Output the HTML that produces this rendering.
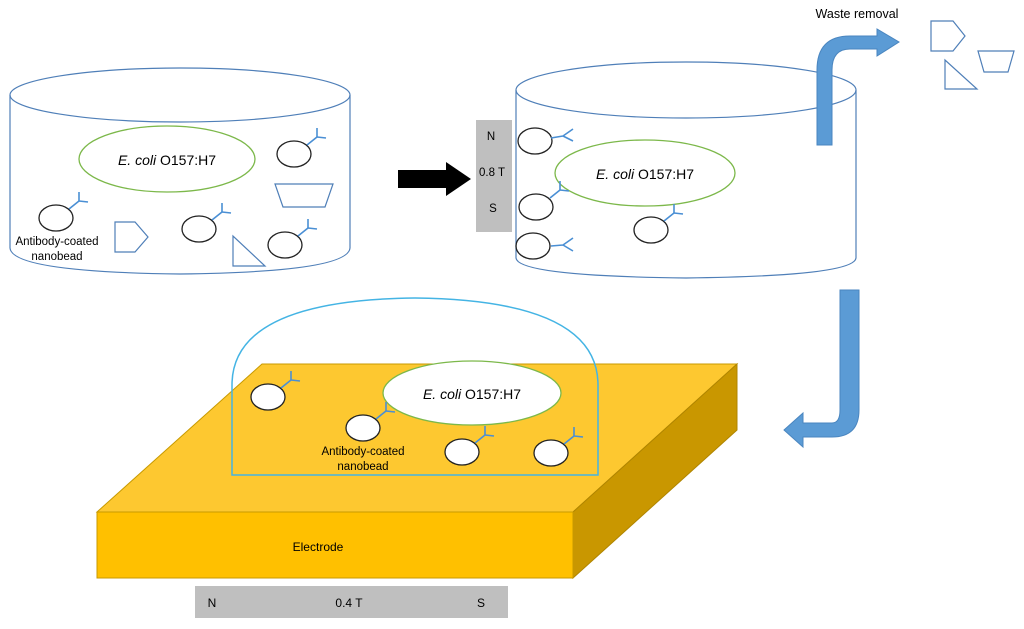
<!DOCTYPE html>
<html><head><meta charset="utf-8"><style>
html,body{margin:0;padding:0;background:#fff;}
svg{display:block;font-family:"Liberation Sans",sans-serif;}
</style></head><body>
<svg width="1024" height="629" viewBox="0 0 1024 629" xmlns="http://www.w3.org/2000/svg">
<defs>
<g id="ab" stroke="#4a8fd4" stroke-width="1.6" fill="none"><line x1="0" y1="0" x2="10" y2="-8"/><line x1="10" y1="-8" x2="10" y2="-17"/><line x1="10" y1="-8" x2="19" y2="-7"/></g>
</defs>
<g fill="none" stroke="#4f7fb8" stroke-width="1.2">
<ellipse cx="180" cy="95" rx="170" ry="27"/>
<path d="M10,95 L10,248 Q12,272 180,274 Q348,272 350,248 L350,95"/>
</g>
<ellipse cx="167" cy="159" rx="88" ry="33" fill="none" stroke="#7cb84a" stroke-width="1.3"/>
<text x="167" y="165" font-size="14" text-anchor="middle"><tspan font-style="italic">E. coli</tspan> O157:H7</text>
<g fill="none" stroke="#222" stroke-width="1.3">
<ellipse cx="56" cy="218" rx="17" ry="13"/><ellipse cx="294" cy="154" rx="17" ry="13"/>
<ellipse cx="199" cy="229" rx="17" ry="13"/><ellipse cx="285" cy="245" rx="17" ry="13"/>
</g>
<use href="#ab" x="69" y="209"/><use href="#ab" x="307" y="145"/><use href="#ab" x="212" y="220"/><use href="#ab" x="298" y="236"/>
<g fill="none" stroke="#4f7fb8" stroke-width="1.2">
<polygon points="115,222 135,222 148,237 135,252 115,252"/>
<polygon points="275,184 333,184 325,207 283,207"/>
<polygon points="233,236 233,266 265,266"/>
</g>
<text x="57" y="245" font-size="11.5" text-anchor="middle">Antibody-coated</text>
<text x="57" y="260" font-size="11.5" text-anchor="middle">nanobead</text>
<polygon points="398,170 446,170 446,162 471,179 446,196 446,188 398,188" fill="#000"/>
<rect x="476" y="120" width="36" height="112" fill="#bfbfbf"/>
<text x="491" y="140" font-size="11.5" text-anchor="middle">N</text>
<text x="492" y="176" font-size="11.5" text-anchor="middle">0.8 T</text>
<text x="493" y="212" font-size="11.5" text-anchor="middle">S</text>
<g fill="none" stroke="#4f7fb8" stroke-width="1.2">
<ellipse cx="686" cy="90" rx="170" ry="28"/>
<path d="M516,90 L516,258 Q518,276 686,278 Q854,276 856,258 L856,90"/>
</g>
<ellipse cx="645" cy="173" rx="90" ry="33" fill="none" stroke="#7cb84a" stroke-width="1.3"/>
<text x="645" y="179" font-size="14" text-anchor="middle"><tspan font-style="italic">E. coli</tspan> O157:H7</text>
<g fill="none" stroke="#222" stroke-width="1.3">
<ellipse cx="535" cy="141" rx="17" ry="13"/><ellipse cx="536" cy="207" rx="17" ry="13"/>
<ellipse cx="533" cy="246" rx="17" ry="13"/><ellipse cx="651" cy="230" rx="17" ry="13"/>
</g>
<g stroke="#4a8fd4" stroke-width="1.6" fill="none">
<path d="M551,138 L563,136 M563,136 L573,129 M563,136 L573,141"/>
<path d="M551,246 L563,245 M563,245 L573,238 M563,245 L573,251"/>
</g>
<use href="#ab" x="550" y="198"/><use href="#ab" x="664" y="221"/>
<path d="M817,145 L817,70 Q817,36 850,36 L877,36 L877,29 L899,42 L877,56 L877,49 L850,49 Q832,49 832,70 L832,145 Z" fill="#5b9bd5" stroke="#4a86c0"/>
<text x="857" y="18" font-size="12.5" text-anchor="middle">Waste removal</text>
<g fill="none" stroke="#4f7fb8" stroke-width="1.2">
<polygon points="931,21 953,21 965,36 953,51 931,51"/>
<polygon points="978,51 1014,51 1008,72 984,72"/>
<polygon points="945,60 945,89 977,89"/>
</g>
<path d="M840,290 L859,290 L859,410 Q859,437 832,437 L803,437 L803,447 L784,430 L803,413 L803,423 L832,423 Q840,423 840,410 Z" fill="#5b9bd5" stroke="#4a86c0"/>
<polygon points="97,512 262,364 737,364 573,512" fill="#fdc830" stroke="#c89a00" stroke-width="1"/>
<polygon points="573,512 737,364 737,430 573,578" fill="#c99700" stroke="#b08500" stroke-width="1"/>
<rect x="97" y="512" width="476" height="66" fill="#ffc000" stroke="#c89a00" stroke-width="1"/>
<text x="318" y="551" font-size="12" text-anchor="middle">Electrode</text>
<path d="M232,475 L232,385 Q232,300 415,298 Q598,300 598,385 L598,475 Z" fill="none" stroke="#44b4e4" stroke-width="1.5"/>
<ellipse cx="472" cy="393" rx="89" ry="32" fill="#fff" stroke="#7cb84a" stroke-width="1.3"/>
<text x="472" y="399" font-size="14" text-anchor="middle"><tspan font-style="italic">E. coli</tspan> O157:H7</text>
<g fill="#fff" stroke="#222" stroke-width="1.3">
<ellipse cx="268" cy="397" rx="17" ry="13"/><ellipse cx="363" cy="428" rx="17" ry="13"/>
<ellipse cx="462" cy="452" rx="17" ry="13"/><ellipse cx="551" cy="453" rx="17" ry="13"/>
</g>
<use href="#ab" x="281" y="388"/><use href="#ab" x="376" y="419"/><use href="#ab" x="475" y="443"/><use href="#ab" x="564" y="444"/>
<text x="363" y="455" font-size="11.5" text-anchor="middle">Antibody-coated</text>
<text x="363" y="470" font-size="11.5" text-anchor="middle">nanobead</text>
<rect x="195" y="586" width="313" height="32" fill="#bfbfbf"/>
<text x="212" y="607" font-size="12" text-anchor="middle">N</text>
<text x="349" y="607" font-size="12" text-anchor="middle">0.4 T</text>
<text x="481" y="607" font-size="12" text-anchor="middle">S</text>
</svg>
</body></html>
